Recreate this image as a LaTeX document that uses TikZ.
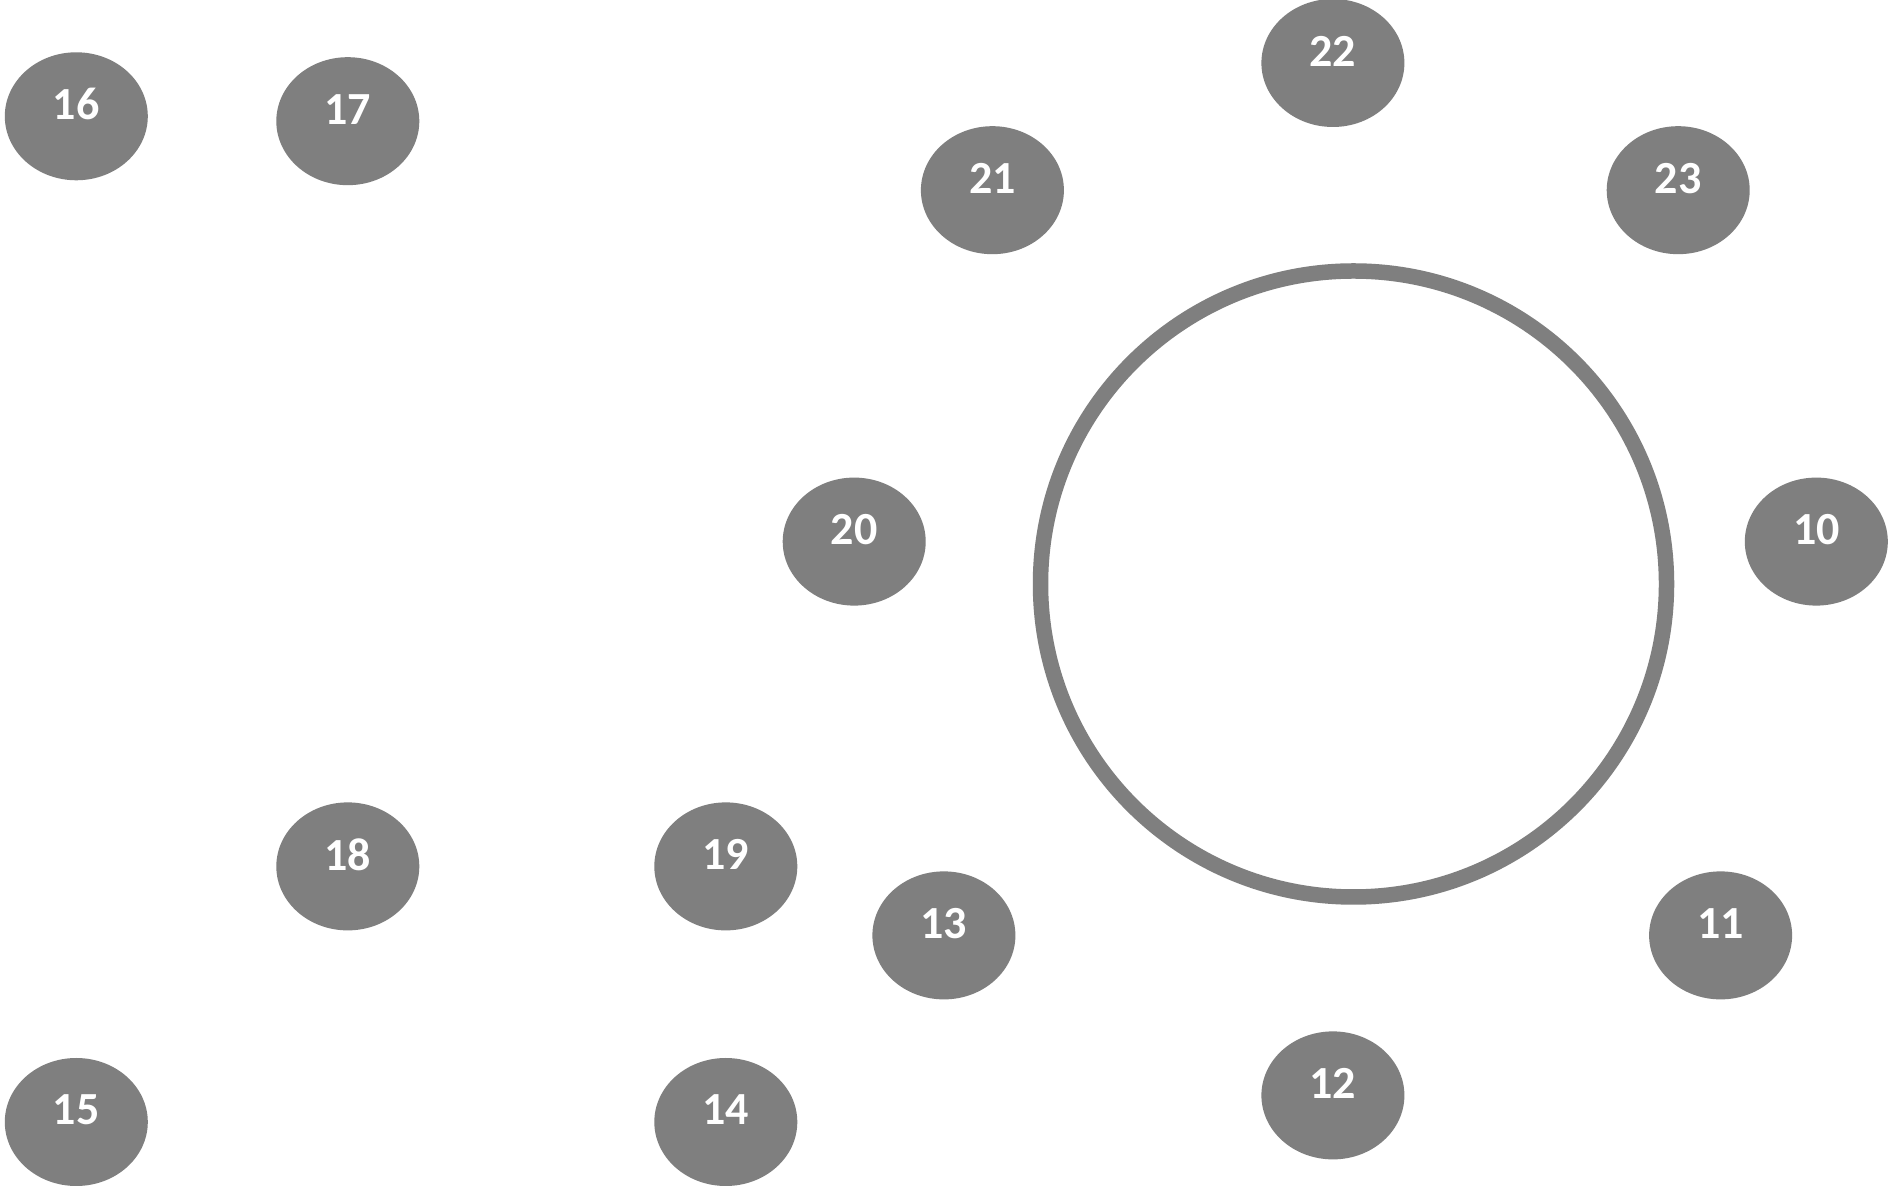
\documentclass[tikz,border=0pt]{standalone}
\usepackage{fontspec}
\setmainfont{Carlito}[BoldFont={Carlito Bold}]
\usetikzlibrary{shapes.geometric}
\definecolor{blobgray}{RGB}{127,127,127}
\tikzset{
  blob/.style={ellipse, fill=blobgray, draw=none, minimum width=143pt, minimum height=128pt, inner sep=0pt},
  lbl/.style={text=white, font=\bfseries\fontsize{46}{50}\selectfont, inner sep=0pt},
  ring/.style={draw=blobgray, line width=15.5pt, fill=none}
}
\newcommand{\blobnode}[3]{%
  \node[blob] (n#1) at (#2,#3) {};
  \path (n#1.center) ++(0,12) node[lbl] (t#1) {#1};
}
\begin{document}
\begin{tikzpicture}[x=1pt,y=1pt]
\useasboundingbox[fill=white] (0,0) rectangle (1900,1188);
\node[ring, circle, minimum size=626pt, inner sep=0pt] (ring) at (1353.5,604) {};
\blobnode{16}{76.3}{1071.7}
\blobnode{17}{347.8}{1066.8}
\blobnode{22}{1332.9}{1125}
\blobnode{21}{992.4}{997.8}
\blobnode{23}{1678.2}{997.8}
\blobnode{20}{854.2}{646.4}
\blobnode{10}{1816.3}{646.4}
\blobnode{18}{347.8}{321.6}
\blobnode{19}{725.8}{321.6}
\blobnode{13}{943.9}{252.6}
\blobnode{11}{1720.6}{252.6}
\blobnode{12}{1332.9}{92.6}
\blobnode{15}{76.3}{66}
\blobnode{14}{725.8}{66}
\end{tikzpicture}
\end{document}
